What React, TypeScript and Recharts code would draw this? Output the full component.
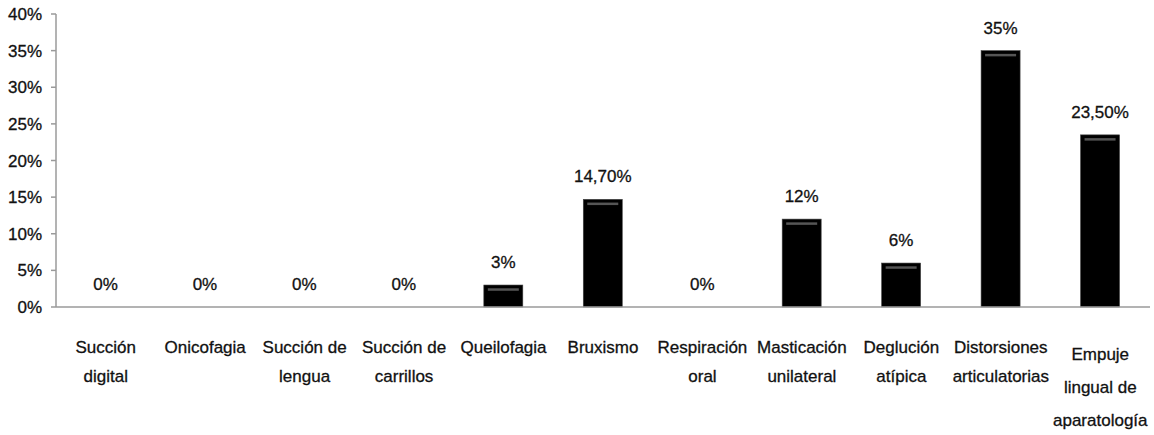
import React from "react";
import { BarChart, Bar, XAxis, YAxis, LabelList } from "recharts";

// Hábitos parafuncionales: porcentaje de pacientes
const habitos = [
  "Succión digital",
  "Onicofagia",
  "Succión de lengua",
  "Succión de carrillos",
  "Queilofagia",
  "Bruxismo",
  "Respiración oral",
  "Masticación unilateral",
  "Deglución atípica",
  "Distorsiones articulatorias",
  "Empuje lingual de aparatología",
];

// saltos de línea de cada etiqueta del eje X
const lineasEtiqueta: string[][] = [
  ["Succión", "digital"],
  ["Onicofagia"],
  ["Succión de", "lengua"],
  ["Succión de", "carrillos"],
  ["Queilofagia"],
  ["Bruxismo"],
  ["Respiración", "oral"],
  ["Masticación", "unilateral"],
  ["Deglución", "atípica"],
  ["Distorsiones", "articulatorias"],
  ["Empuje", "lingual de", "aparatología"],
];

const porcentajes = [0, 0, 0, 0, 3, 14.7, 0, 12, 6, 35, 23.5];

const yTicks = [0, 5, 10, 15, 20, 25, 30, 35, 40];

const data = habitos.map((h, i) => ({
  habito: h,
  valor: porcentajes[i],
}));

const FONT = "'Liberation Sans Narrow', 'Arial Narrow', sans-serif";
const TEXTO = {
  fontFamily: FONT,
  fontSize: 17,
  fill: "#111",
  stroke: "#111",
  strokeWidth: 0.3,
};

const formatoValor = (v: number) =>
  Number.isInteger(v) ? `${v}%` : `${v.toFixed(2).replace(".", ",")}%`;

const TickHabito = ({ x, y, payload, index }: any) => {
  const lineas: string[] = lineasEtiqueta[index ?? payload.index] ?? [payload.value];
  const tres = lineas.length > 2;
  return (
    <text x={x} y={y} textAnchor="middle" {...TEXTO}>
      {lineas.map((l, i) => (
        <tspan key={i} x={x} dy={i === 0 ? (tres ? 45 : 38) : tres ? 33 : 29}>
          {l}
        </tspan>
      ))}
    </text>
  );
};

// barra negra con el brillo gris cerca del borde superior
const BarraNegra = (props: any) => {
  const { x, y, width, height } = props;
  if (!height || height <= 0) return null;
  return (
    <g>
      <rect x={x} y={y} width={width} height={height} fill="#000" stroke="#444" strokeWidth={0.6} />
      {height > 8 && (
        <line
          x1={x + 4}
          x2={x + width - 4}
          y1={y + 4.5}
          y2={y + 4.5}
          stroke="#555"
          strokeWidth={2.5}
        />
      )}
    </g>
  );
};

const EtiquetaValor = (props: any) => {
  const { x, y, width, value } = props;
  return (
    <text x={x + width / 2} y={y - 17} textAnchor="middle" {...TEXTO}>
      {formatoValor(value)}
    </text>
  );
};

export default function App() {
  return (
    <div style={{ position: "fixed", left: 0, top: 0, background: "#fff" }}>
      <BarChart
        width={1154}
        height={435}
        data={data}
        margin={{ top: 14, right: 4, left: 0, bottom: 0 }}
        barSize={39}
      >
        <XAxis
          dataKey="habito"
          height={128}
          interval={0}
          tickLine={false}
          axisLine={{ stroke: "#9a9a9a", strokeWidth: 1.5 }}
          tick={<TickHabito />}
        />
        <YAxis
          width={56}
          domain={[0, 40]}
          ticks={yTicks}
          interval={0}
          tickFormatter={(v) => `${v}%`}
          tickSize={5}
          tickMargin={9}
          axisLine={{ stroke: "#9a9a9a", strokeWidth: 1.5 }}
          tickLine={{ stroke: "#9a9a9a", strokeWidth: 1.5 }}
          tick={TEXTO}
        />
        <Bar dataKey="valor" shape={<BarraNegra />} isAnimationActive={false}>
          <LabelList dataKey="valor" content={<EtiquetaValor />} />
        </Bar>
      </BarChart>
    </div>
  );
}
